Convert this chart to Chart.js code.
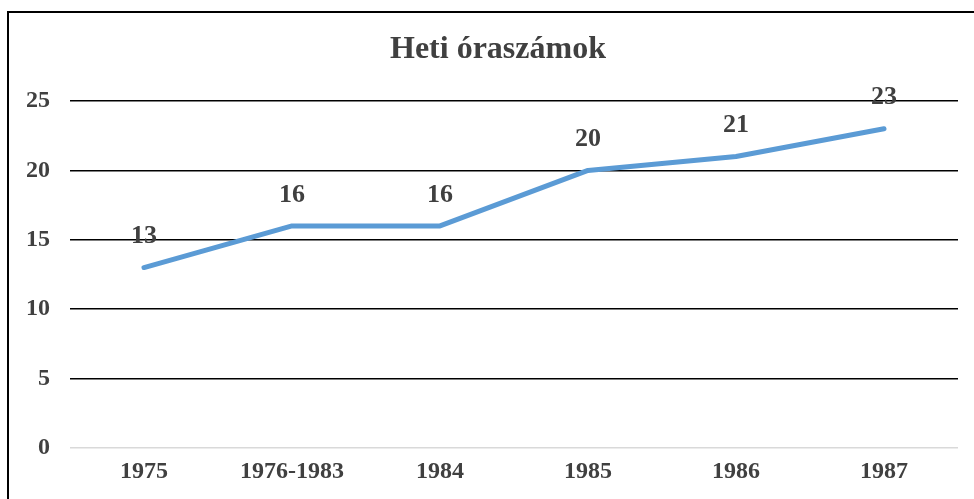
<!DOCTYPE html>
<html>
<head>
<meta charset="utf-8">
<script src="https://cdn.jsdelivr.net/npm/chart.js@4"></script>
<style>
  html, body { margin: 0; padding: 0; background: #fff; overflow: hidden; }
  #wrap { position: relative; width: 974px; height: 499px; }
  #frame { position: absolute; left: 7px; top: 11px; width: 1000px; height: 520px; border: 2px solid #000; pointer-events: none; }
  canvas { position: absolute; left: 0; top: 0; }
</style>
</head>
<body>
<div id="wrap">
  <canvas id="chart" width="974" height="499"></canvas>
  <div id="frame"></div>
</div>
<script>
const categories = ["1975", "1976-1983", "1984", "1985", "1986", "1987"];
const hours = [13, 16, 16, 20, 21, 23];
const yTicks = [0, 5, 10, 15, 20, 25];
const chartTitle = "Heti óraszámok";

const textColor = "#404040";
const serif = "'Liberation Serif', 'Times New Roman', serif";

// title (centred on the outer frame, not the canvas) + value labels above each point
const labelsPlugin = {
    id: "labelsPlugin",
    afterDatasetsDraw(chart) {
        const ctx = chart.ctx;
        const meta = chart.getDatasetMeta(0);
        ctx.save();
        ctx.fillStyle = textColor;
        ctx.textAlign = "center";
        ctx.textBaseline = "middle";
        ctx.font = "bold 32px " + serif;
        ctx.fillText(chartTitle, 498, 50);
        ctx.font = "bold 26px " + serif;
        meta.data.forEach((pt, i) => {
            ctx.fillText(String(hours[i]), pt.x, pt.y - 31);
        });
        ctx.restore();
    }
};

new Chart(document.getElementById("chart").getContext("2d"), {
    type: "line",
    data: {
        labels: categories,
        datasets: [{
            data: hours,
            borderColor: "#5B9BD5",
            borderWidth: 5,
            borderCapStyle: "round",
            borderJoinStyle: "round",
            pointRadius: 0,
            tension: 0,
            fill: false
        }]
    },
    options: {
        responsive: false,
        animation: false,
        layout: { padding: { left: 0, right: 16, top: 101, bottom: 0 } },
        plugins: {
            legend: { display: false },
            tooltip: { enabled: false },
            title: { display: false }
        },
        scales: {
            x: {
                offset: true,
                grid: { display: false, drawTicks: false, offset: true },
                border: { display: false },
                ticks: {
                    color: textColor,
                    font: { family: serif, size: 24, weight: "bold" },
                    padding: 9,
                    maxRotation: 0
                },
                afterFit(scale) { scale.height = 51; }
            },
            y: {
                min: 0,
                max: 25,
                afterBuildTicks(scale) { scale.ticks = yTicks.map(v => ({ value: v })); },
                grid: {
                    drawTicks: false,
                    lineWidth: 1.5,
                    color: c => (c.tick && c.tick.value === 0) ? "#d9d9d9" : "#000"
                },
                border: { display: false },
                ticks: {
                    color: textColor,
                    font: { family: serif, size: 24, weight: "bold" },
                    padding: 20
                },
                afterFit(scale) { scale.width = 70; }
            }
        }
    },
    plugins: [labelsPlugin]
});
</script>
</body>
</html>
